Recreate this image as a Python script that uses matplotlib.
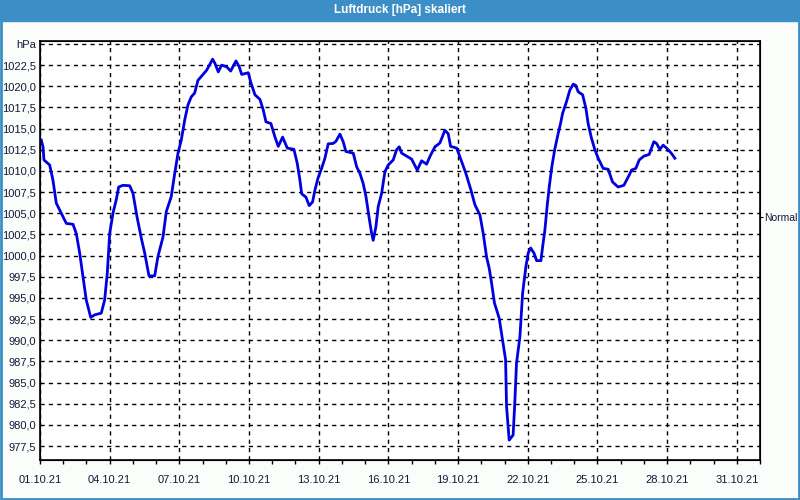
import pandas as pd
import matplotlib.pyplot as plt
import matplotlib.dates as mdates
from matplotlib.patches import Rectangle

# Stunden seit 01.10.21 00:00 und Luftdruck in hPa
hours = [1.3, 3.1, 4.1, 10.0, 13.4, 16.8, 22.0, 27.2, 34.1, 37.5, 41.0, 44.4, 47.8, 52.4, 56.5,
         63.3, 66.8, 69.5, 72.0, 75.4, 78.8, 81.3, 85.7, 92.7, 96.1, 100.2, 104.7, 108.2, 112.6,
         118.5, 121.9, 127.1, 130.5, 135.6, 139.2, 142.6, 146.0, 149.5, 152.9, 156.3, 159.8,
         163.2, 168.4, 172.2, 178.4, 180.8, 184.2, 187.7, 192.9, 197.0, 202.5, 205.9, 208.4,
         215.2, 217.7, 222.1, 227.3, 230.7, 233.5, 238.6, 242.8, 246.2, 250.7, 255.5, 262.4,
         265.8, 268.6, 270.4, 274.8, 278.2, 281.7, 284.1, 287.5, 291.0, 294.4, 297.8, 303.0,
         305.8, 309.9, 313.3, 316.1, 323.7, 327.2, 330.6, 334.0, 336.8, 340.2, 342.7, 344.3,
         347.1, 349.5, 353.0, 356.4, 359.8, 365.0, 368.5, 371.2, 373.7, 378.8, 384.0, 389.8,
         394.3, 399.5, 402.9, 408.1, 413.2, 418.4, 421.8, 424.3, 430.5, 435.7, 440.1, 445.3,
         449.4, 454.6, 458.0, 461.5, 464.2, 466.7, 469.6, 474.5, 478.0, 481.1, 482.1, 484.8,
         488.9, 490.6, 492.4, 495.9, 498.7, 502.1, 504.5, 507.0, 510.4, 513.2, 517.6, 519.4,
         521.7, 524.1, 526.2, 528.9, 532.0, 535.4, 537.9, 540.0, 544.1, 547.5, 551.0, 553.7,
         556.1, 560.7, 564.1, 566.4, 569.9, 573.4, 576.8, 581.9, 587.1, 591.6, 597.4, 603.3,
         608.8, 611.3, 615.7, 619.2, 624.0, 629.5, 631.9, 634.3, 637.1, 640.5, 643.9, 647.4,
         650.8, 653.6, 656.0]
pressure = [1013.65, 1012.85, 1011.3, 1010.7, 1008.9, 1006.2, 1005.0, 1003.8, 1003.7, 1002.6,
            1000.3, 997.5, 994.75, 992.7, 993.0, 993.2, 994.75, 997.9, 1002.6, 1005.0, 1006.6,
            1008.1, 1008.3, 1008.25, 1007.35, 1004.6, 1002.05, 1000.3, 997.6, 997.6, 999.9,
            1002.2, 1005.2, 1006.95, 1009.7, 1012.1, 1013.65, 1016.0, 1017.8, 1018.75, 1019.2,
            1020.7, 1021.4, 1021.9, 1023.2, 1022.7, 1021.7, 1022.5, 1022.3, 1021.8, 1023.0,
            1022.3, 1021.4, 1021.6, 1020.5, 1019.0, 1018.45, 1017.2, 1015.8, 1015.6, 1014.0,
            1012.9, 1014.0, 1012.7, 1012.55, 1010.9, 1008.9, 1007.3, 1006.9, 1005.9, 1006.35,
            1007.75, 1009.25, 1010.3, 1011.5, 1013.2, 1013.25, 1013.5, 1014.35, 1013.45, 1012.3,
            1012.1, 1010.5, 1009.7, 1008.5, 1007.0, 1004.4, 1002.6, 1001.8, 1003.4, 1005.8,
            1007.35, 1009.9, 1010.7, 1011.3, 1012.5, 1012.85, 1012.1, 1011.75, 1011.4, 1010.1,
            1011.2, 1010.8, 1011.7, 1012.85, 1013.3, 1014.8, 1014.4, 1012.9, 1012.7, 1011.1,
            1009.7, 1007.75, 1006.0, 1004.8, 1002.6, 999.8, 998.5, 996.7, 994.4, 992.6, 990.0,
            987.7, 982.2, 978.2, 978.8, 982.55, 987.3, 990.4, 995.55, 998.7, 1000.3, 1000.9,
            1000.3, 999.4, 999.4, 1001.05, 1003.0, 1005.9, 1008.1, 1010.5, 1012.6, 1014.4,
            1015.6, 1016.8, 1018.2, 1019.55, 1020.25, 1020.1, 1019.35, 1019.0, 1017.4, 1015.6,
            1013.85, 1012.5, 1011.5, 1010.3, 1010.2, 1008.7, 1008.1, 1008.3, 1009.5, 1010.1,
            1010.3, 1011.3, 1011.75, 1011.95, 1012.7, 1013.45, 1013.25, 1012.55, 1013.05,
            1012.7, 1012.3, 1011.9, 1011.5]

yticks = [977.5, 980.0, 982.5, 985.0, 987.5, 990.0, 992.5, 995.0, 997.5, 1000.0, 1002.5,
          1005.0, 1007.5, 1010.0, 1012.5, 1015.0, 1017.5, 1020.0, 1022.5, 1025.0]
xticks = ['2021-10-01', '2021-10-04', '2021-10-07', '2021-10-10', '2021-10-13', '2021-10-16',
          '2021-10-19', '2021-10-22', '2021-10-25', '2021-10-28', '2021-10-31']
normal_value = 1004.5

times = pd.Timestamp('2021-10-01') + pd.to_timedelta(hours, unit='h')

blue = '#3c8fc6'
textcol = '#16163a'
plt.rcParams['font.family'] = 'Liberation Sans'

fig = plt.figure(figsize=(8, 5), dpi=100, facecolor='#fbfdfb')
# Titelleiste und Rahmen
fig.patches.append(Rectangle((0, 0.959), 1, 0.041, transform=fig.transFigure,
                             color=blue, zorder=0))
fig.patches.append(Rectangle((0.001, 0.002), 0.998, 0.997, transform=fig.transFigure,
                             fill=False, edgecolor=blue, lw=2, zorder=0))
fig.text(0.5, 0.979, 'Luftdruck [hPa] skaliert', color='white', ha='center', va='center',
         fontsize=8.5, fontweight='bold')

ax = fig.add_axes([0.05, 0.08, 0.90, 0.838])
ax.plot(times, pressure, color='#0000e0', lw=2, zorder=3)

ax.set_xlim(pd.Timestamp('2021-10-01'), pd.Timestamp('2021-11-01'))
ax.set_ylim(975.85, 1025.35)

ax.set_xticks(pd.to_datetime(xticks))
ax.xaxis.set_minor_locator(mdates.DayLocator())
ax.xaxis.set_major_formatter(mdates.DateFormatter('%d.%m.%y'))

labels = [f'{v:.1f}'.replace('.', ',') for v in yticks]
labels[-1] = 'hPa'
ax.set_yticks(yticks)
ax.set_yticklabels(labels)

ax.grid(True, which='major', color='black', linestyle=(0, (3, 3)), lw=1)
ax.tick_params(axis='x', which='both', length=3, width=1, color='black', labelsize=8,
               labelcolor=textcol, pad=8)
ax.tick_params(axis='y', length=0, labelsize=8, labelcolor=textcol, pad=3)
for s in ax.spines.values():
    s.set_color('black')
    s.set_linewidth(1.2)

ax2 = ax.twinx()
ax2.set_ylim(ax.get_ylim())
ax2.set_yticks([normal_value])
ax2.set_yticklabels(['Normal'])
ax2.tick_params(axis='y', length=2.5, labelsize=7.5, labelcolor=textcol, pad=0.5)

plt.savefig('out.png', dpi=100, facecolor=fig.get_facecolor())
